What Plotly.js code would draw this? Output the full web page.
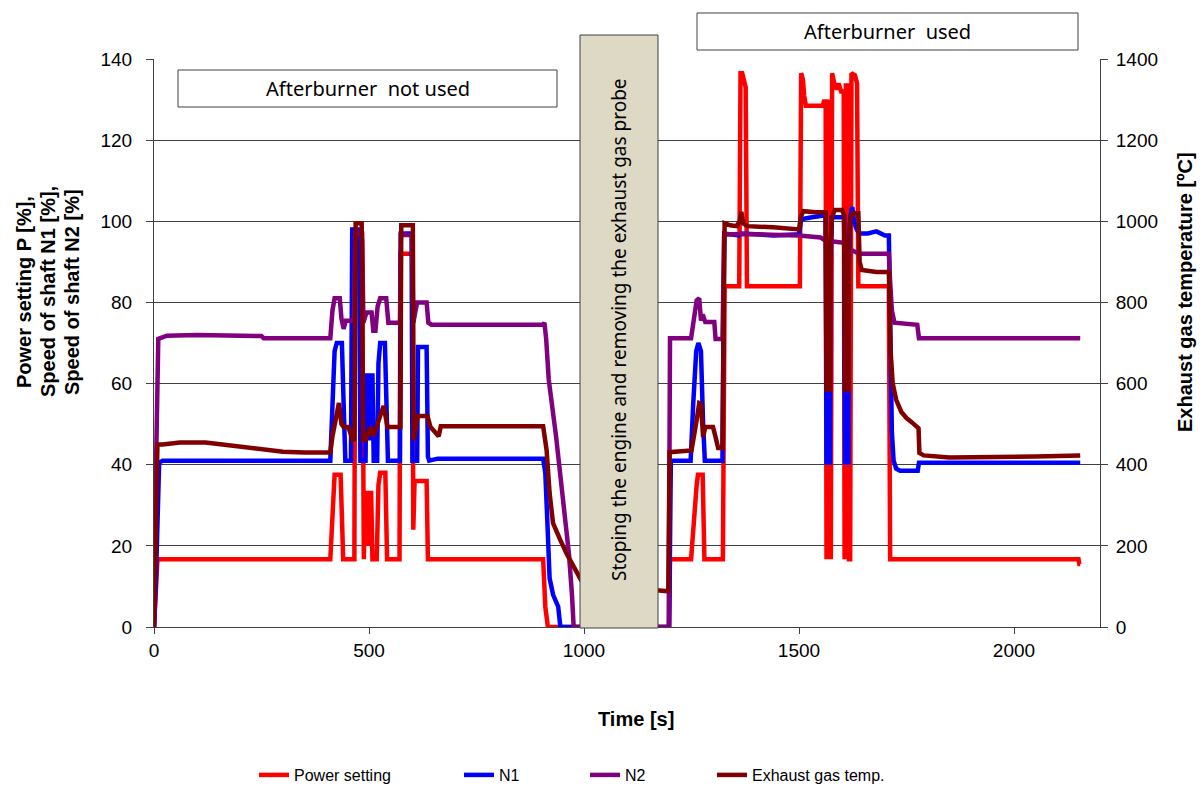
<!DOCTYPE html>
<html>
<head>
<meta charset="utf-8">
<script src="https://cdn.plot.ly/plotly-3.0.1.min.js"></script>
<style>html,body{margin:0;padding:0;background:#fff;}#chart{width:1203px;height:787px;}</style>
</head>
<body>
<div id="chart"></div>
<script>
// ---- Data ----
const powerT = [0,8,410,416,420,434,440,466,468,484,486,488,491,495,498,501,505,508,518,522,526,538,542,571,573,601,603,606,634,637,905,910,916,1198,1200,1249,1262,1265,1276,1280,1323,1327,1361,1364,1368,1372,1376,1379,1502,1505,1509,1512,1516,1555,1558,1562,1564,1565,1566,1567,1568,1569,1570,1571,1572,1573,1574,1577,1582,1588,1592,1598,1604,1606,1607,1608,1609,1610,1611,1612,1613,1614,1615,1616,1619,1622,1630,1635,1638,1709,1712,2150,2152,2154];
const powerP = [0,16.7,16.7,30,37.5,37.5,16.7,16.7,95,95,16.7,16.7,33,33,20,33,33,16.7,16.7,35,38,38,16.7,16.7,92,92,24,36,36,16.7,16.7,5,0,0,16.7,16.7,35,37.5,37.5,16.7,16.7,84,84,136.5,136.5,134,133,84,84,136.5,135,131,128.5,128.5,129.5,129.5,16.7,130,16.7,130,16.7,130,16.7,130,16.7,130,16.7,136.5,134,132.5,134,132,132,16.7,134,16.7,134,16.7,134,16.7,134,16.7,134,16.7,16.7,136.5,136,134,84,84,16.7,16.7,15.5,15.5];

const n1T = [0,4,12,20,410,414,420,425,437,441,445,458,461,477,480,492,494,499,501,503,508,511,519,522,526,537,541,544,572,574,599,601,612,614,634,637,640,660,905,910,914,920,928,935,940,945,1198,1202,1248,1254,1261,1266,1272,1277,1281,1322,1326,1360,1366,1400,1440,1500,1505,1530,1562,1564,1565,1566,1567,1568,1569,1570,1571,1572,1573,1576,1590,1605,1607,1608,1609,1610,1611,1612,1613,1614,1615,1616,1619,1624,1628,1634,1640,1660,1680,1700,1709,1712,1716,1720,1726,1735,1776,1779,2154];
const n1V = [0,10,40.5,41,41,55,68,70,70,55,41,41,98,98,41,41,62,62,46,62,62,41,41,65,70,70,55,41,41,97,97,41,41,69,69,42,41,41.5,41.5,38,28,12,8,6,5,0,0,41,41,55,68,70,68,50,41,41,97,96.5,97,96.8,96.5,96.8,100.5,101,101.5,40,90,40,90,40,90,40,90,40,90,101,101,101,40,90,40,90,40,90,40,90,40,90,101,103.5,100,98,97,97,97.5,96.5,96.5,70,48,41,39,38.5,38.5,40.5,40.5];

const n2T = [0,3,10,30,100,250,255,410,415,420,432,436,441,446,465,468,484,487,494,506,510,515,520,526,540,545,572,574,600,603,612,634,638,645,905,908,912,918,935,950,965,972,976,1197,1200,1249,1255,1262,1268,1272,1276,1282,1303,1306,1322,1326,1330,1400,1500,1550,1565,1580,1605,1620,1640,1709,1712,1716,1722,1760,1775,1779,2154];
const n2V = [0,30,71,71.8,72,71.7,71.2,71.2,78,81,81,76,73.5,75.5,75.5,97,97,75,77.5,77.5,73,73,79,81,81,75,75,96.6,96.6,75,80,80,75,74.5,74.5,75,71,61,47,33,18,8,0,0,71.2,71.2,76,80.5,81,75.5,77,75.2,75.2,71,71,96.5,96.8,96.8,96.5,96,95,95,94.7,93,92,92,85,78,75,74.5,74.5,71.2,71.2];

const egtT = [0,3,8,20,60,120,160,200,250,300,350,410,415,422,430,436,441,452,462,466,469,483,486,492,503,510,522,534,543,573,575,599,602,604,613,636,643,662,667,905,909,913,920,928,945,960,993,1060,1175,1196,1199,1250,1262,1268,1272,1277,1282,1300,1306,1312,1322,1327,1340,1355,1362,1366,1370,1380,1440,1500,1504,1510,1540,1562,1564,1565,1566,1567,1568,1569,1570,1571,1572,1573,1577,1583,1600,1605,1607,1608,1609,1610,1611,1612,1613,1614,1615,1616,1620,1626,1638,1641,1646,1660,1680,1709,1713,1718,1726,1738,1750,1762,1774,1778,1780,1790,1850,1950,2050,2154];
const egtV = [0,200,450,450,455,455,450,445,438,432,430,430,470,503,552,500,493,493,461,462,995,995,461,461,493,470,512,545,493,493,990,990,990,460,520,520,493,470,495,495,470,436,330,256,214,180,116,100,90,88,431,435,510,552,550,468,493,493,468,441,441,995,990,988,1000,1023,995,988,985,980,1010,1025,1022,1022,580,950,580,950,580,950,580,950,580,950,1010,1028,1028,1015,580,950,580,950,580,950,580,950,580,950,1010,1020,1020,900,880,878,875,875,680,600,560,530,515,505,495,490,429,423,418,418,420,423];

const seriesNames = ['Power setting','N1','N2','Exhaust gas temp.'];
const seriesColors = ['#FF0000','#0000FF','#800080','#800000'];
const leftTicks = [0,20,40,60,80,100,120,140];
const rightTicks = [0,200,400,600,800,1000,1200,1400];
const xTicks = [0,500,1000,1500,2000];
const leftTitleLines = ['Power setting P [%],','Speed of shaft N1 [%],','Speed of shaft N2 [%]'];
const rightTitle = 'Exhaust gas temperature [ºC]';
const xTitle = 'Time [s]';
const boxTextNotUsed = 'Afterburner  not used';
const boxTextUsed = 'Afterburner  used';
const stopText = 'Stoping the engine and removing the exhaust gas probe';

// ---- Layout helpers (pixel -> paper) ----
const L = 154, R = 1100, T = 59, B = 627;
const W = R - L, H = B - T;
const px = v => (v - L) / W;
const py = v => (B - v) / H;

const lw = 4.5;
const legendX = [254, 459, 585, 712];
const traces = [
  {x: powerT, y: powerP},
  {x: n1T, y: n1V},
  {x: n2T, y: n2V},
  {x: egtT, y: egtV, yaxis: 'y2'}
].map((d, i) => Object.assign({
  type: 'scatter', mode: 'lines', name: seriesNames[i],
  line: {color: seriesColors[i], width: lw, shape: 'linear'},
  legend: i === 0 ? 'legend' : 'legend' + (i + 1),
  cliponaxis: true, hoverinfo: 'skip'
}, d));

const legendCommon = i => ({
  x: px(legendX[i]), y: py(775), xanchor: 'left', yanchor: 'middle',
  orientation: 'h', bgcolor: 'rgba(0,0,0,0)', borderwidth: 0,
  font: {family: 'Liberation Sans, Arial, sans-serif', size: 16, color: '#000'},
  itemwidth: 30, tracegroupgap: 0
});

const tickFont = {family: 'Liberation Sans, Arial, sans-serif', size: 19, color: '#000'};
const titleFont = {family: 'Liberation Sans, Arial, sans-serif', size: 20, color: '#000', weight: 'bold'};
const boxFont = {family: 'Noto Sans, Open Sans, sans-serif', size: 20, color: '#000'};

const annotations = [];
leftTitleLines.forEach((t, i) => {
  annotations.push({xref: 'paper', yref: 'paper', x: px([24, 48, 72][i]), y: py(292),
    text: '<b>' + t + '</b>', showarrow: false, textangle: -90, font: titleFont,
    xanchor: 'center', yanchor: 'middle'});
});
annotations.push({xref: 'paper', yref: 'paper', x: px(1185), y: py(292), text: '<b>' + rightTitle + '</b>',
  showarrow: false, textangle: -90, font: titleFont, xanchor: 'center', yanchor: 'middle'});
annotations.push({xref: 'paper', yref: 'paper', x: px(636), y: py(719), text: '<b>' + xTitle + '</b>',
  showarrow: false, font: titleFont, xanchor: 'center', yanchor: 'middle'});
annotations.push({xref: 'paper', yref: 'paper', x: px(367.5), y: py(88.5), text: boxTextNotUsed,
  showarrow: false, font: boxFont, xanchor: 'center', yanchor: 'middle'});
annotations.push({xref: 'paper', yref: 'paper', x: px(887.5), y: py(31.5), text: boxTextUsed,
  showarrow: false, font: boxFont, xanchor: 'center', yanchor: 'middle'});
annotations.push({xref: 'paper', yref: 'paper', x: px(619), y: py(330), text: stopText,
  showarrow: false, textangle: -90, font: Object.assign({}, boxFont, {size: 19}), xanchor: 'center', yanchor: 'middle'});

const shapes = [
  {type: 'rect', xref: 'paper', yref: 'paper', x0: px(580), x1: px(658), y0: py(628), y1: py(35),
   fillcolor: '#DDD9C4', line: {color: '#404040', width: 1}, layer: 'above'},
  {type: 'rect', xref: 'paper', yref: 'paper', x0: px(178), x1: px(557), y0: py(107), y1: py(70),
   fillcolor: '#FFFFFF', line: {color: '#404040', width: 1}, layer: 'above'},
  {type: 'rect', xref: 'paper', yref: 'paper', x0: px(697), x1: px(1078), y0: py(50), y1: py(13),
   fillcolor: '#FFFFFF', line: {color: '#404040', width: 1}, layer: 'above'}
];

const layout = {
  width: 1203, height: 787,
  margin: {l: L, r: 1203 - R, t: T, b: 787 - B, pad: 0, autoexpand: false},
  paper_bgcolor: '#fff', plot_bgcolor: '#fff',
  showlegend: true,
  xaxis: {range: [0, 2200], tickvals: xTicks, ticktext: xTicks.map(String),
    ticks: 'outside', ticklen: 6, tickcolor: '#404040', tickwidth: 1,
    showline: true, linecolor: '#404040', linewidth: 1, showgrid: false, zeroline: false,
    tickfont: tickFont, fixedrange: true, automargin: false},
  yaxis: {range: [0, 140], tickvals: leftTicks, ticktext: leftTicks.map(String),
    ticks: 'outside', ticklen: 7, tickcolor: '#404040', tickwidth: 1, ticklabelstandoff: 10,
    showline: true, linecolor: '#404040', linewidth: 1,
    showgrid: true, gridcolor: '#404040', gridwidth: 1, zeroline: false,
    tickfont: tickFont, fixedrange: true, automargin: false},
  yaxis2: {range: [0, 1400], tickvals: rightTicks, ticktext: rightTicks.map(String),
    overlaying: 'y', side: 'right', anchor: 'x',
    ticks: 'outside', ticklen: 7, tickcolor: '#404040', tickwidth: 1, ticklabelstandoff: 4,
    showline: true, linecolor: '#404040', linewidth: 1, showgrid: false, zeroline: false,
    tickfont: tickFont, fixedrange: true, automargin: false},
  legend: legendCommon(0),
  legend2: legendCommon(1),
  legend3: legendCommon(2),
  legend4: legendCommon(3),
  annotations: annotations,
  shapes: shapes
};

Plotly.newPlot('chart', traces, layout, {staticPlot: true, displayModeBar: false});
</script>
</body>
</html>
